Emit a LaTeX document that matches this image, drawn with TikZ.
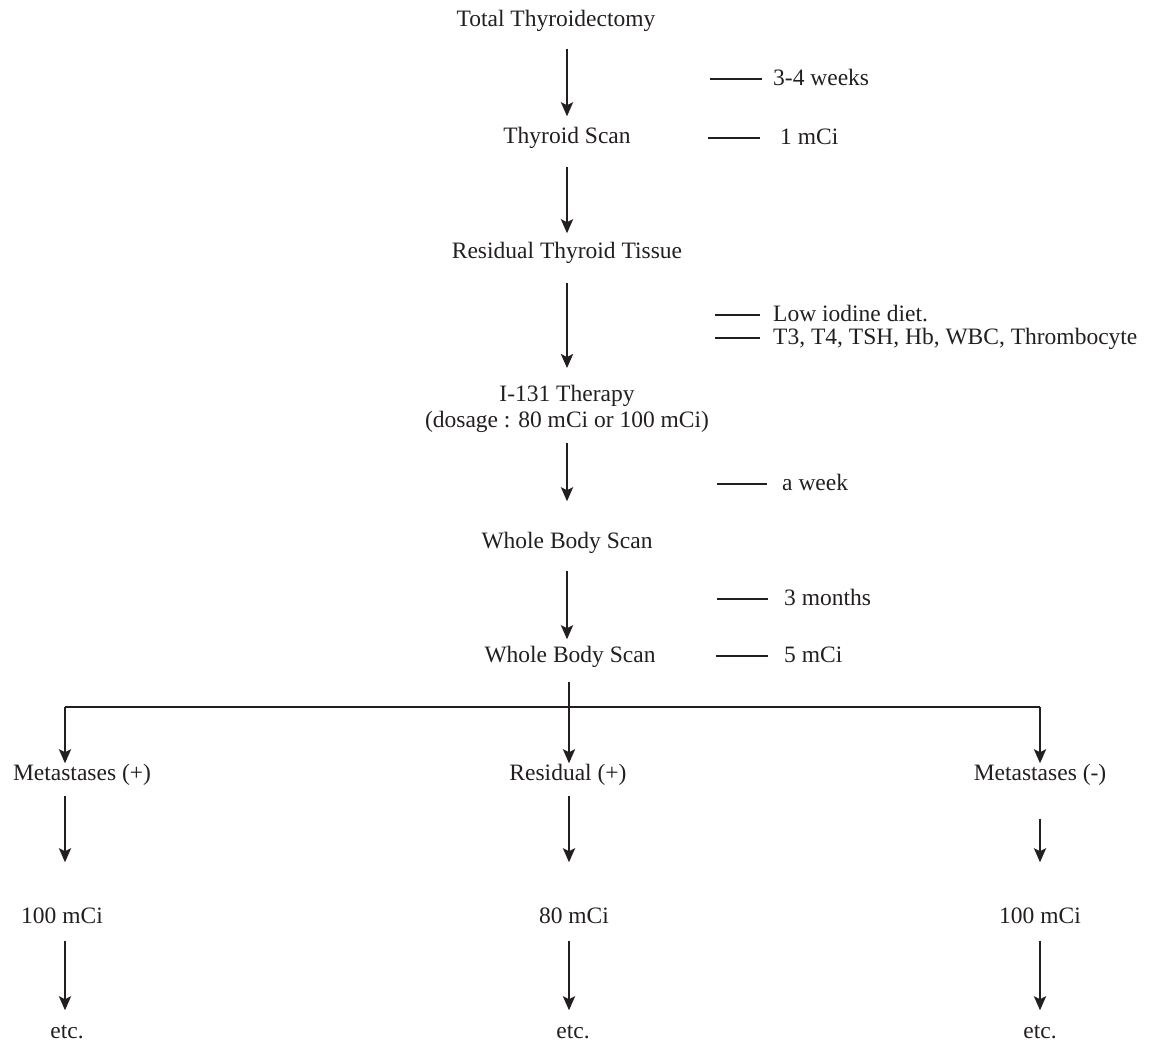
\documentclass[tikz,border=0pt]{standalone}
\usepackage{fontspec}
\setmainfont{Liberation Serif}
\usetikzlibrary{arrows.meta}
\definecolor{ink}{HTML}{231F20}
\tikzset{
  txt/.style={font=\fontsize{23.5}{26}\selectfont, text=ink, inner sep=0pt},
  lbl/.style={txt, text height=16pt, text depth=5pt},
  side/.style={lbl, anchor=west},
  arr/.style={draw=ink, line width=2.8pt, -{Stealth[length=14pt,width=12pt,inset=3pt]}},
  tickline/.style={draw=ink, line width=2.6pt},
  ln/.style={draw=ink, line width=2.8pt},
}
\begin{document}
\begin{tikzpicture}[x=1pt,y=-1pt]
\useasboundingbox (0,0) rectangle (1165,1046);
% main column
\node[lbl] (T)  at (556,21)  {Total Thyroidectomy};
\node[lbl] (TS) at (567,138) {Thyroid Scan};
\node[lbl] (R)  at (567,253) {Residual Thyroid Tissue};
\node[txt, align=center] (I) at (567,409) {I-131 Therapy\\(dosage : 80 mCi or 100 mCi)};
\node[lbl] (W1) at (567,543) {Whole Body Scan};
\node[lbl] (W2) at (570,657) {Whole Body Scan};
% branches
\node[lbl] (MP) at (82,775)   {Metastases (+)};
\node[lbl] (RP) at (568,775)  {Residual (+)};
\node[lbl] (MM) at (1040,775) {Metastases (-)};
\node[lbl] (D1) at (62,918)   {100 mCi};
\node[lbl] (D2) at (574,918)  {80 mCi};
\node[lbl] (D3) at (1040,918) {100 mCi};
\node[lbl] (E1) at (67,1033)  {etc.};
\node[lbl] (E2) at (573,1033) {etc.};
\node[lbl] (E3) at (1040,1033){etc.};
% side labels
\node[side] (s1) at (773,80)  {3-4 weeks};
\node[side] (s2) at (780,139) {1 mCi};
\node[side] (s3) at (773,316) {Low iodine diet.};
\node[side] (s4) at (773,339) {T3, T4, TSH, Hb, WBC, Thrombocyte};
\node[side] (s5) at (782,485) {a week};
\node[side] (s6) at (784,600) {3 months};
\node[side] (s7) at (784,657) {5 mCi};
\coordinate (c1) at (710,79);
\coordinate (c2) at (708,138);
\coordinate (c3) at (715,315);
\coordinate (c4) at (715,338);
\coordinate (c5) at (717,484);
\coordinate (c6) at (717,599);
\coordinate (c7) at (716,656);
\draw[tickline] (c1) -- ([xshift=-11pt]s1.west |- c1);
\draw[tickline] (c2) -- ([xshift=-20pt]s2.west |- c2);
\draw[tickline] (c3) -- ([xshift=-13pt]s3.west |- c3);
\draw[tickline] (c4) -- ([xshift=-13pt]s4.west |- c4);
\draw[tickline] (c5) -- ([xshift=-15pt]s5.west |- c5);
\draw[tickline] (c6) -- ([xshift=-16pt]s6.west |- c6);
\draw[tickline] (c7) -- ([xshift=-16pt]s7.west |- c7);
% main arrows
\draw[arr, shorten <=17pt, shorten >=11pt] (T.south -| TS) -- (TS.north);
\draw[arr, shorten <=18pt, shorten >=9pt]  (TS.south) -- (R.north);
\draw[arr, shorten <=19pt, shorten >=17pt] (R.south) -- (I.north);
\draw[arr, shorten <=10pt, shorten >=31pt] (I.south) -- (W1.north);
\draw[arr, shorten <=17pt, shorten >=7pt]  (W1.south) -- (W1.south |- W2.north);
% split
\coordinate (J) at (569,707);
\coordinate (JL) at (65,707);
\coordinate (JR) at (1040,707);
\draw[arr, shorten <=14pt, shorten >=1pt] (W2.south -| J) -- (J |- RP.north) ;
\draw[ln] (JL) -- (JR);
\draw[arr, shorten >=1pt] (JL) -- (JL |- MP.north);
\draw[arr, shorten >=1pt] (JR) -- (MM.north);
% lower arrows
\draw[arr, shorten <=10pt, shorten >=45pt] (MP.south -| JL) -- (JL |- D1.north);
\draw[arr, shorten <=10pt, shorten >=45pt] (RP.south -| J)  -- (J |- D2.north);
\draw[arr, shorten <=33pt, shorten >=45pt] (MM.south) -- (D3.north);
\draw[arr, shorten <=12pt, shorten >=12pt] (D1.south -| JL) -- (JL |- E1.north);
\draw[arr, shorten <=12pt, shorten >=12pt] (D2.south -| J) -- (J |- E2.north);
\draw[arr, shorten <=12pt, shorten >=12pt] (D3.south) -- (E3.north);
\end{tikzpicture}
\end{document}
